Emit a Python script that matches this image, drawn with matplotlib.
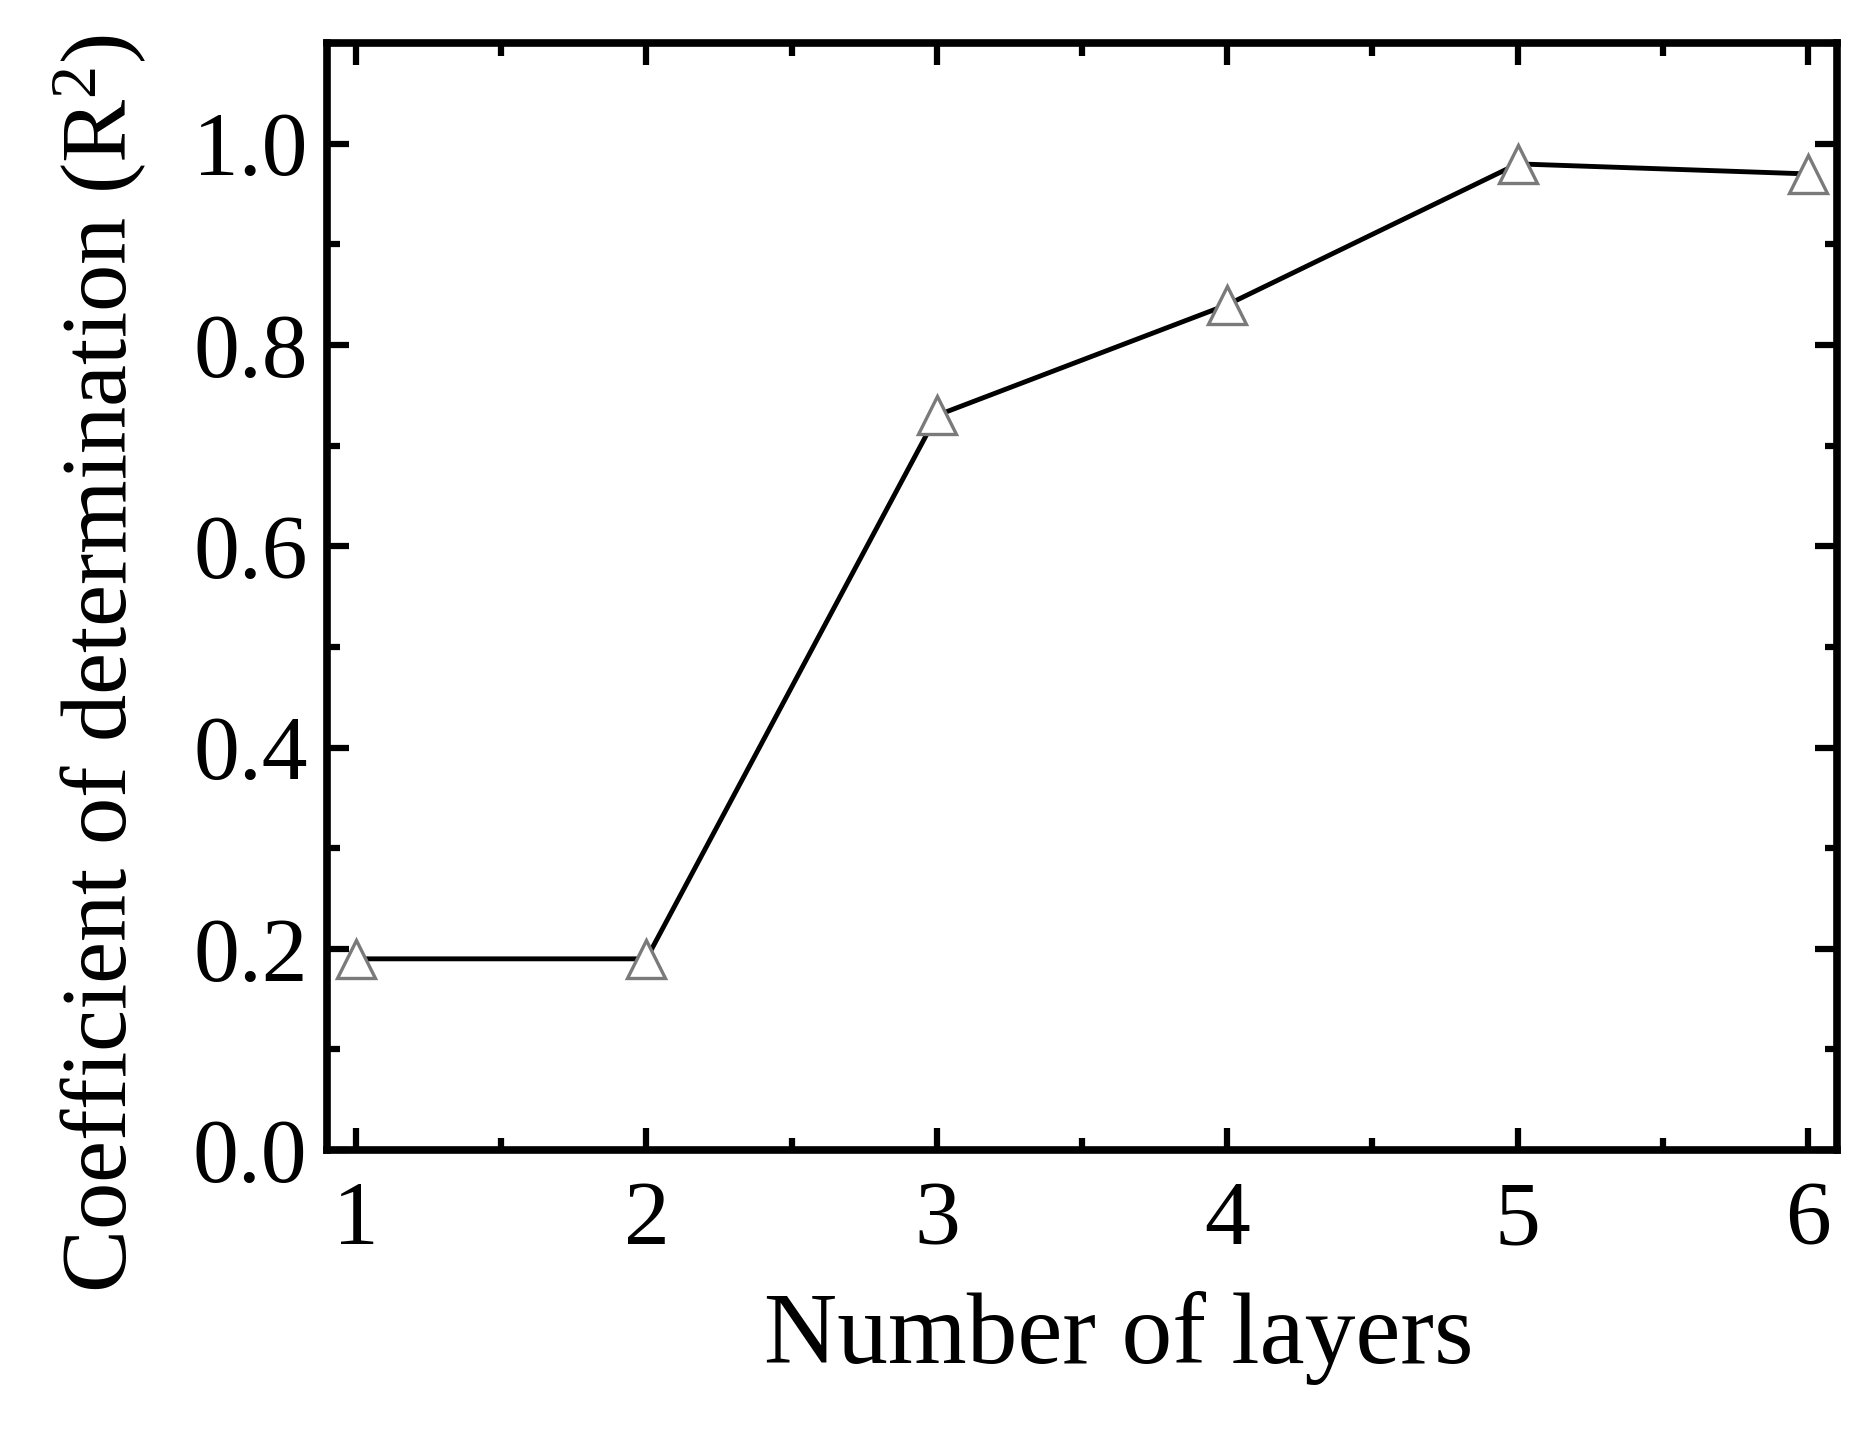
import matplotlib
matplotlib.use("Agg")
import matplotlib.pyplot as plt
from matplotlib.ticker import MultipleLocator

# data
layers = [1, 2, 3, 4, 5, 6]
r2 = [0.19, 0.19, 0.73, 0.84, 0.98, 0.97]

X_LABEL = "Number of layers"
Y_LABEL = r"Coefficient of determination (R$^2$)"

plt.rcParams["font.family"] = ["Liberation Serif", "DejaVu Serif"]
plt.rcParams["mathtext.fontset"] = "custom"
plt.rcParams["mathtext.rm"] = "Liberation Serif"
plt.rcParams["mathtext.it"] = "Liberation Serif:italic"

DPI = 100
fig = plt.figure(figsize=(1873 / DPI, 1437 / DPI), dpi=DPI)
ax = fig.add_axes([0.1746, 0.1997, 0.8062, 0.7703])

ax.plot(layers, r2, color="black", linewidth=3.5, marker="^",
        markersize=28, markerfacecolor="white", markeredgecolor="#7a7a7a",
        markeredgewidth=2.4, zorder=3)

ax.set_xlim(0.9, 6.1)
ax.set_ylim(0.0, 1.1)
ax.xaxis.set_major_locator(MultipleLocator(1))
ax.xaxis.set_minor_locator(MultipleLocator(0.5))
ax.yaxis.set_major_locator(MultipleLocator(0.2))
ax.yaxis.set_minor_locator(MultipleLocator(0.1))
ax.yaxis.set_major_formatter(plt.FormatStrFormatter("%.1f"))

for s in ax.spines.values():
    s.set_linewidth(5.5)

ax.tick_params(which="both", direction="in", top=True, right=True,
               width=4.5, labelsize=66)
ax.tick_params(which="major", length=16)
ax.tick_params(which="minor", length=9)
ax.tick_params(axis="x", pad=22)
ax.tick_params(axis="y", pad=14)

# labels sit a little off-centre in the original
ax.set_xlabel(X_LABEL, fontsize=73, labelpad=20, x=0.5245)
ax.set_ylabel(Y_LABEL, fontsize=68, labelpad=32, y=0.44)

fig.savefig("out.png", dpi=DPI)
